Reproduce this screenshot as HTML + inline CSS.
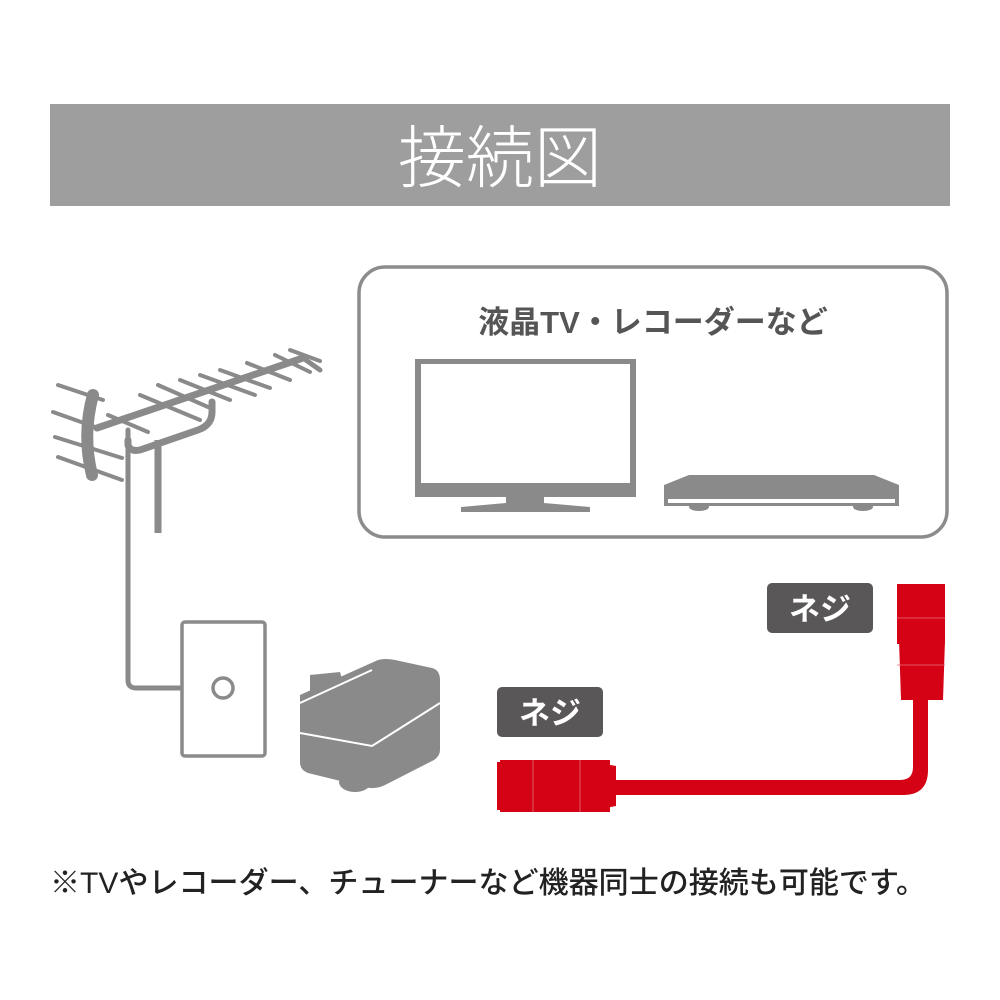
<!DOCTYPE html>
<html><head><meta charset="utf-8"><style>
html,body{margin:0;padding:0;background:#fff;}
svg{display:block;}
</style></head><body>
<svg width="1000" height="1000" viewBox="0 0 1000 1000" xmlns="http://www.w3.org/2000/svg">
<rect x="50" y="104" width="900" height="102" fill="#9e9e9e"/>
<text x="500" y="182" text-anchor="middle" font-family="Liberation Sans, Noto Sans CJK JP, sans-serif" font-size="68" fill="#fff" font-weight="300">接続図</text>

<rect x="359" y="267" width="588" height="270" rx="26" fill="none" stroke="#8c8c8c" stroke-width="3.5"/>
<text x="653" y="333" text-anchor="middle" font-family="Liberation Sans, Noto Sans CJK JP, sans-serif" font-size="31" font-weight="bold" fill="#555">液晶TV・レコーダーなど</text>

<!-- TV -->
<rect x="415" y="359" width="221" height="138" fill="#8a8a8a"/>
<rect x="421" y="364" width="209" height="119" fill="#fff"/>
<rect x="506" y="496" width="38" height="8" fill="#8a8a8a"/>
<polygon points="506,503 544,503 590,507 590,512 461,512 461,507" fill="#8a8a8a"/>
<!-- Recorder -->
<polygon points="689,475 874,475 899,485 899,506 664,506 664,485" fill="#8a8a8a"/>
<rect x="668" y="499" width="227" height="4" fill="#fff"/>
<ellipse cx="699" cy="507" rx="10" ry="4" fill="#8a8a8a"/>
<ellipse cx="863" cy="507" rx="10" ry="4" fill="#8a8a8a"/>

<!-- Antenna -->
<g stroke="#8a8a8a" stroke-linecap="round" fill="none">
<line x1="97" y1="428" x2="303" y2="358" stroke-width="7"/>
<line x1="303" y1="358" x2="320" y2="370" stroke-width="5"/>
<g stroke-width="4">
<line x1="58" y1="385" x2="103" y2="400"/>
<line x1="53" y1="412" x2="98" y2="428"/>
<line x1="55" y1="437" x2="122" y2="458"/>
<line x1="58" y1="457" x2="122" y2="480"/>
<line x1="108" y1="415" x2="148" y2="432"/>
<line x1="140" y1="395" x2="200" y2="420"/>
<line x1="158" y1="385" x2="208" y2="407"/>
<line x1="180" y1="380" x2="230" y2="400"/>
<line x1="200" y1="375" x2="255" y2="395"/>
<line x1="220" y1="370" x2="270" y2="388"/>
<line x1="247" y1="363" x2="290" y2="380"/>
<line x1="275" y1="355" x2="310" y2="372"/>
<line x1="290" y1="350" x2="320" y2="361"/>
</g>
<path d="M93 395 Q82 435 92 475" stroke-width="12"/>
<path d="M128 440 L128 445 Q130 452 140 450 L198 430 Q212 425 212 412 L212 402" stroke-width="7"/>
<path d="M128 430 L128 680 Q128 688 136 688 L181 688" stroke-width="5"/>
<line x1="158" y1="440" x2="158" y2="533" stroke-width="7" stroke-linecap="butt"/>
</g>
<rect x="182" y="622" width="83" height="134" rx="3" fill="none" stroke="#8a8a8a" stroke-width="3.5"/>
<circle cx="223" cy="688" r="10" fill="none" stroke="#8a8a8a" stroke-width="3.5"/>

<!-- Splitter -->
<g fill="#8a8a8a">
<ellipse cx="355" cy="782" rx="16" ry="10"/>
<ellipse cx="405" cy="760" rx="16" ry="10"/>
<polygon points="310,675 340,672 345,690 310,695"/>
<path d="M300 695 L378 660 Q385 658 395 660 L432 668 Q440 670 440 680 L440 750 Q440 756 434 760 L385 785 Q375 790 365 787 L308 773 Q300 770 300 762 Z"/>
</g>
<path d="M300 703 L372 670" stroke="#fff" stroke-width="2" fill="none"/>
<path d="M300 733 L372 746 L440 703" stroke="#fff" stroke-width="2" fill="none"/>

<!-- Labels -->
<rect x="497" y="687" width="106" height="50" rx="5" fill="#5a5758"/>
<text x="550" y="724" text-anchor="middle" font-family="Liberation Sans, Noto Sans CJK JP, sans-serif" font-size="31" font-weight="bold" fill="#fff">ネジ</text>
<rect x="767" y="583" width="106" height="50" rx="5" fill="#5a5758"/>
<text x="820" y="620" text-anchor="middle" font-family="Liberation Sans, Noto Sans CJK JP, sans-serif" font-size="31" font-weight="bold" fill="#fff">ネジ</text>

<!-- Red cable -->
<g fill="#d50215">
<path d="M610 780 L900 780 Q913 780 913 767 L913 700 L928 700 L928 770 Q928 795 903 795 L610 795 Z"/>
<rect x="497" y="762" width="38" height="48"/>
<rect x="500" y="760" width="110" height="52"/>
<polygon points="600,763 616,766 616,806 600,809"/>
<rect x="897" y="584" width="48" height="60"/>
<polygon points="899,640 945,640 943,700 901,700"/>
</g>
<g stroke="#e8707a" stroke-width="0.8">
<line x1="533" y1="760" x2="533" y2="812"/>
<line x1="580" y1="760" x2="580" y2="812"/>
<line x1="897" y1="618" x2="945" y2="618"/>
<line x1="897" y1="665" x2="945" y2="665"/>
</g>

<text x="50" y="893" font-family="Liberation Sans, Noto Sans CJK JP, sans-serif" font-size="30" font-weight="500" fill="#222" textLength="876">※TVやレコーダー、チューナーなど機器同士の接続も可能です。</text>
</svg>
</body></html>
